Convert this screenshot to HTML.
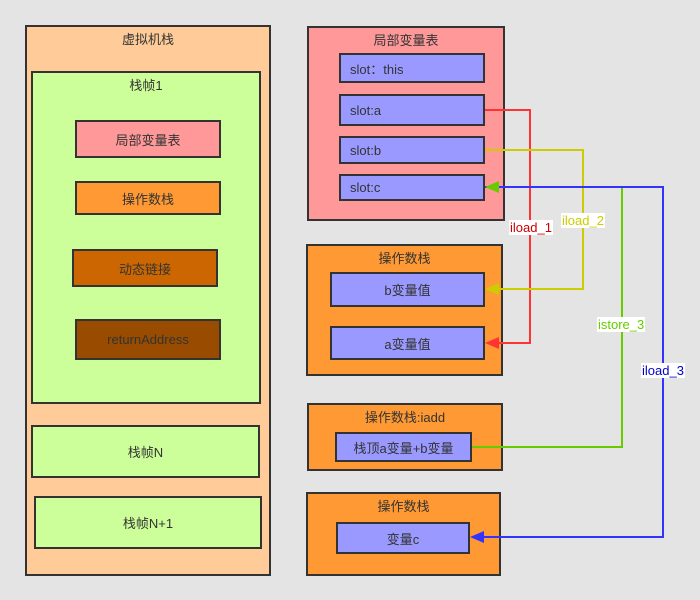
<!DOCTYPE html>
<html><head><meta charset="utf-8"><style>
body{margin:0;width:700px;height:600px;background:#e4e4e4;position:relative;overflow:hidden;font-family:"Liberation Sans","Noto Sans CJK SC",sans-serif;font-size:13px;color:#333}
.b{position:absolute;box-sizing:border-box;border:2px solid #333;display:flex;align-items:center;justify-content:center}
.t{align-items:flex-start;padding-top:2px}
.l{justify-content:flex-start;padding-left:9px}
.p{background:#99f}
svg{position:absolute;left:0;top:0}
.lab{position:absolute;background:#fff;font-size:13px;line-height:15px;padding:0 1px}
</style></head><body>
<div class="b t" style="left:25px;top:25px;width:246px;height:551px;background:#fc9">虚拟机栈</div>
<div class="b t" style="left:31px;top:71px;width:230px;height:333px;background:#cf9">栈帧1</div>
<div class="b" style="left:75px;top:120px;width:146px;height:38px;background:#f99">局部变量表</div>
<div class="b" style="left:75px;top:181px;width:146px;height:34px;background:#f93">操作数栈</div>
<div class="b" style="left:72px;top:249px;width:146px;height:38px;background:#c60">动态链接</div>
<div class="b" style="left:75px;top:319px;width:146px;height:41px;background:#994c00">returnAddress</div>
<div class="b" style="left:31px;top:425px;width:229px;height:53px;background:#cf9">栈帧N</div>
<div class="b" style="left:34px;top:496px;width:228px;height:53px;background:#cf9">栈帧N+1</div>

<div class="b t" style="left:307px;top:26px;width:198px;height:195px;background:#f99">局部变量表</div>
<div class="b p l" style="left:339px;top:53px;width:146px;height:30px">slot：this</div>
<div class="b p l" style="left:339px;top:94px;width:146px;height:32px">slot:a</div>
<div class="b p l" style="left:339px;top:136px;width:146px;height:28px">slot:b</div>
<div class="b p l" style="left:339px;top:174px;width:146px;height:27px">slot:c</div>

<div class="b t" style="left:306px;top:244px;width:197px;height:132px;background:#f93">操作数栈</div>
<div class="b p" style="left:330px;top:272px;width:155px;height:35px">b变量值</div>
<div class="b p" style="left:330px;top:326px;width:155px;height:34px">a变量值</div>

<div class="b t" style="left:307px;top:403px;width:196px;height:68px;background:#f93">操作数栈:iadd</div>
<div class="b p" style="left:335px;top:432px;width:137px;height:30px">栈顶a变量+b变量</div>

<div class="b t" style="left:306px;top:492px;width:195px;height:84px;background:#f93">操作数栈</div>
<div class="b p" style="left:336px;top:522px;width:134px;height:32px">变量c</div>

<svg width="700" height="600">
<g fill="none" stroke-width="2">
<polyline points="485,110 530,110 530,343 497,343" stroke="#f33"/>
<polyline points="485,150 583,150 583,289 497,289" stroke="#cc0"/>
<polyline points="472,447 622,447 622,187 497,187" stroke="#6c0"/>
<polyline points="485,187 663,187 663,537 482,537" stroke="#33f"/>
</g>
<polygon points="485,343 499,337 499,349" fill="#f33"/>
<polygon points="485,289 499,283 499,295" fill="#cc0"/>
<polygon points="485,187 499,181 499,193" fill="#6c0"/>
<polygon points="470,537 484,531 484,543" fill="#33f"/>
</svg>
<div class="lab" style="left:509px;top:220px;color:#c00">iload_1</div>
<div class="lab" style="left:561px;top:213px;color:#cc0">iload_2</div>
<div class="lab" style="left:597px;top:317px;color:#6c0">istore_3</div>
<div class="lab" style="left:641px;top:363px;color:#00c">iload_3</div>
</body></html>
